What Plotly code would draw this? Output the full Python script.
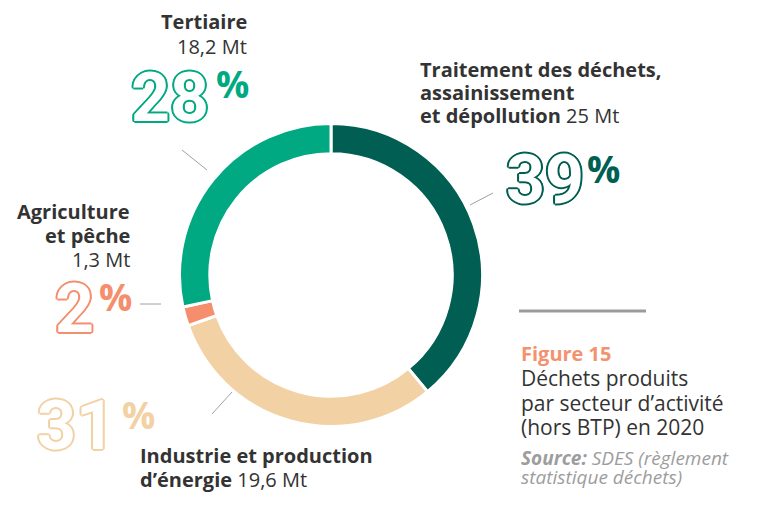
import plotly.graph_objects as go

# donnees (Mt) - ordre horaire depuis midi
secteurs = ["Traitement des déchets, assainissement et dépollution",
            "Industrie et production d'énergie",
            "Agriculture et pêche",
            "Tertiaire"]
valeurs = [25, 19.6, 1.3, 18.2]
pourcents = ["39", "31", "2", "28"]
couleurs = ["#005e52", "#f2d1a4", "#f48e6d", "#00a982"]

# la page a une marge de 8px -> on compense
OFF = 8
W, H = 766 - 2 * OFF, 508 - 2 * OFF
DARK = "#333333"
FONT = "Open Sans"
DIGITS = "Roboto"


def px(x):
    return (x - OFF) / W


def py(y):
    return 1 - (y - OFF) / H


def outline(c, w=2.0):
    dirs = [(1, 0), (-1, 0), (0, 1), (0, -1), (0.7, 0.7), (-0.7, 0.7), (0.7, -0.7), (-0.7, -0.7)]
    return ", ".join(f"{dx*w:.2f}px {dy*w:.2f}px 0 {c}" for dx, dy in dirs)


fig = go.Figure(go.Pie(
    labels=secteurs, values=valeurs,
    sort=False, direction="clockwise", rotation=0,
    hole=0.8,
    marker=dict(colors=couleurs, line=dict(color="white", width=3)),
    textinfo="none", hoverinfo="label+value",
    domain=dict(x=[px(331 - 151.5), px(331 + 151.5)], y=[py(275 + 151.5), py(275 - 151.5)]),
    showlegend=False,
))

ann = []


def txt(x, y, s, size=20, color=DARK, xa="left", **kw):
    # une annotation par ligne pour serrer l'interligne
    ann.append(dict(x=px(x), y=py(y), xref="paper", yref="paper", text=s, showarrow=False,
                    xanchor=xa, yanchor="middle", align=xa,
                    font=dict(family=FONT, size=size, color=color, **kw)))


def pct(x_right, y_mid, x_pc, y_pc, s, c):
    # chiffres detoures + signe % en exposant
    ann.append(dict(x=px(x_right), y=py(y_mid), xref="paper", yref="paper", text=s,
                    showarrow=False, xanchor="right", yanchor="middle",
                    font=dict(family=DIGITS, size=68, color="white", weight="bold",
                              shadow=outline(c))))
    ann.append(dict(x=px(x_pc), y=py(y_pc), xref="paper", yref="paper", text="%",
                    showarrow=False, xanchor="left", yanchor="middle",
                    font=dict(family=FONT, size=37, color=c, weight="bold")))


# Tertiaire
txt(249, 22, "<b>Tertiaire</b>", xa="right")
txt(249, 46, "18,2 Mt", xa="right")
pct(211, 98, 214, 83, pourcents[3], couleurs[3])

# Traitement
txt(418, 69, "<b>Traitement des déchets,</b>")
txt(418, 92, "<b>assainissement</b>")
txt(418, 115, "<b>et dépollution</b> 25 Mt")
pct(586, 180, 585, 168, pourcents[0], couleurs[0])

# Agriculture
txt(132, 212, "<b>Agriculture</b>", xa="right")
txt(132, 236, "<b>et pêche</b>", xa="right")
txt(132, 259, "1,3 Mt", xa="right")
pct(96, 309, 97, 296, pourcents[2], couleurs[2])

# Industrie
pct(117, 426, 120, 414, pourcents[1], couleurs[1])
txt(138, 455, "<b>Industrie et production</b>")
txt(138, 479, "<b>d’énergie</b> 19,6 Mt")

# legende figure
txt(519, 353, "<b>Figure 15</b>", size=20, color="#f4926f")
for i, ligne in enumerate(["Déchets produits", "par secteur d’activité", "(hors BTP) en 2020"]):
    txt(519, 378 + 24.5 * i, ligne, size=21)
txt(519, 458, "<b>Source:</b> SDES (règlement", size=19, color="#9d9d9d", style="italic")
txt(519, 477, "statistique déchets)", size=19, color="#9d9d9d", style="italic")

grey = dict(color="#a0a0a0", width=1)
shapes = [
    dict(type="line", xref="paper", yref="paper", x0=px(182), y0=py(150), x1=px(207), y1=py(170), line=grey),
    dict(type="line", xref="paper", yref="paper", x0=px(470), y0=py(205), x1=px(493), y1=py(193), line=grey),
    dict(type="line", xref="paper", yref="paper", x0=px(140), y0=py(304), x1=px(161), y1=py(304), line=grey),
    dict(type="line", xref="paper", yref="paper", x0=px(212), y0=py(414), x1=px(232), y1=py(392), line=grey),
    dict(type="line", xref="paper", yref="paper", x0=px(519), y0=py(311), x1=px(646), y1=py(311),
         line=dict(color="#9b9b9b", width=3)),
]

fig.update_layout(width=W, height=H, margin=dict(l=0, r=0, t=0, b=0),
                  paper_bgcolor="white", plot_bgcolor="white",
                  annotations=ann, shapes=shapes)

fig.write_html("out.html")
